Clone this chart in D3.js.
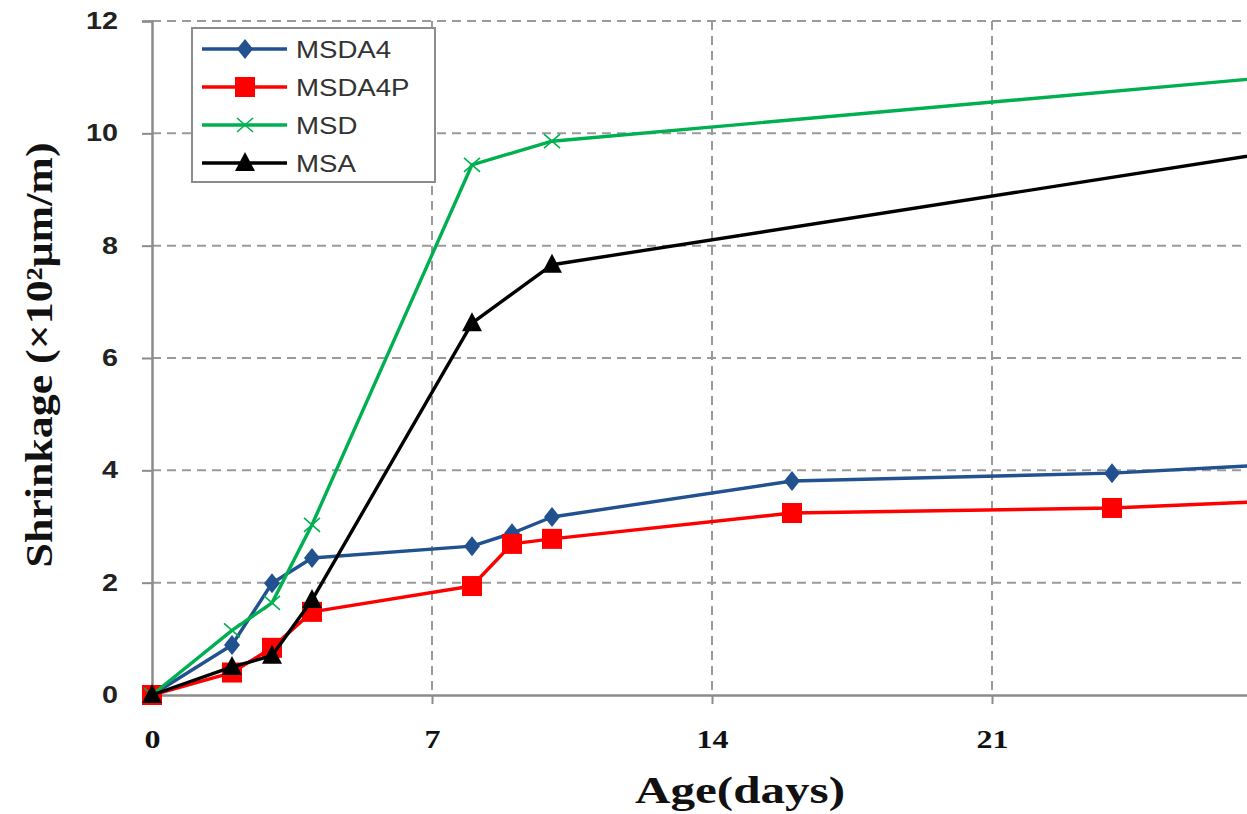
<!DOCTYPE html>
<html>
<head>
<meta charset="utf-8">
<script src="https://cdn.jsdelivr.net/npm/d3@7"></script>
<style>
  html, body { margin: 0; padding: 0; background: #fff; overflow: hidden; }
  svg { display: block; }
</style>
</head>
<body>
<svg id="chart" width="1247" height="814"></svg>
<script>
// Shrinkage of mortar mixes over time (×10² µm/m)
const days       = [0, 2, 3, 4, 8, 9, 10, 16, 24, 28];
const msda4      = [0, 0.89, 1.99, 2.44, 2.65, 2.88, 3.17, 3.81, 3.95, 4.10];
const msda4p     = [0, 0.40, 0.84, 1.48, 1.94, 2.69, 2.78, 3.24, 3.33, 3.45];
const msdDays    = [0, 2, 3, 4, 8, 10, 28];
const msd        = [0, 1.15, 1.64, 3.03, 9.44, 9.86, 11.0];
const msaDays    = [0, 2, 3, 4, 8, 10, 28];
const msa        = [0, 0.50, 0.70, 1.69, 6.62, 7.66, 9.66];
const xTicks     = [0, 7, 14, 21, 28];
const yTicks     = [0, 2, 4, 6, 8, 10, 12];
const seriesNames = ["MSDA4", "MSDA4P", "MSD", "MSA"];

const series = [
  { name: seriesNames[0], x: days,    y: msda4,  color: "#22518f", marker: "diamond" },
  { name: seriesNames[1], x: days,    y: msda4p, color: "#ff0000", marker: "square" },
  { name: seriesNames[2], x: msdDays, y: msd,    color: "#00b050", marker: "cross" },
  { name: seriesNames[3], x: msaDays, y: msa,    color: "#000000", marker: "triangle" }
];

const svg = d3.select("#chart");
const x = d3.scaleLinear().domain([0, 28]).range([152, 1272]);
const y = d3.scaleLinear().domain([0, 12]).range([695, 21]);

// widen text glyphs horizontally by a factor
function widen(sel, factor) {
  sel.each(function () {
    const w = this.getComputedTextLength();
    d3.select(this).attr("textLength", w * factor).attr("lengthAdjust", "spacingAndGlyphs");
  });
}

// dashed grid
const grid = svg.append("g");
grid.selectAll("line.h").data(yTicks.filter(d => d > 0)).join("line")
  .attr("x1", x(0)).attr("x2", 1272)
  .attr("y1", d => y(d)).attr("y2", d => y(d))
  .attr("stroke", "#9a9a9a").attr("stroke-width", 2).attr("stroke-dasharray", "9,6");
grid.selectAll("line.v").data(xTicks.filter(d => d > 0)).join("line")
  .attr("x1", d => x(d)).attr("x2", d => x(d))
  .attr("y1", y(12)).attr("y2", y(0))
  .attr("stroke", "#9a9a9a").attr("stroke-width", 2).attr("stroke-dasharray", "9,6");

// axes
const yAxis = svg.append("g").attr("transform", `translate(${x(0)},0)`)
  .call(d3.axisLeft(y).tickValues(yTicks).tickSize(10).tickPadding(24));
yAxis.select(".domain").attr("stroke", "#8c8c8c").attr("stroke-width", 2.5);
yAxis.selectAll(".tick line").attr("stroke", "#8c8c8c").attr("stroke-width", 2);
yAxis.selectAll(".tick text")
  .attr("font-family", "'Liberation Sans', Arial, sans-serif")
  .attr("font-weight", "bold").attr("font-size", 23).attr("fill", "#222")
  .call(widen, 1.25);

const xAxis = svg.append("g").attr("transform", `translate(0,${y(0)})`)
  .call(d3.axisBottom(x).tickValues(xTicks).tickSize(9).tickPadding(26)
    .tickFormat(d => d < 28 ? d : ""));
xAxis.select(".domain").attr("stroke", "#8c8c8c").attr("stroke-width", 2.5);
xAxis.selectAll(".tick line").attr("stroke", "#8c8c8c").attr("stroke-width", 2);
xAxis.selectAll(".tick text")
  .attr("font-family", "'Liberation Serif', 'Times New Roman', serif")
  .attr("font-weight", "bold").attr("font-size", 25).attr("fill", "#111")
  .call(widen, 1.28);

// marker drawing helper
function drawMarker(sel, kind, color) {
  if (kind === "diamond") {
    sel.append("path").attr("d", "M0,-10 L8,0 L0,10 L-8,0 Z").attr("fill", color);
  } else if (kind === "square") {
    sel.append("rect").attr("x", -10).attr("y", -10).attr("width", 20).attr("height", 20)
      .attr("fill", color);
  } else if (kind === "triangle") {
    sel.append("path").attr("d", "M0,-11 L10,8 L-10,8 Z").attr("fill", color);
  } else if (kind === "cross") {
    sel.append("path").attr("d", "M-8,-7 L8,7 M-8,7 L8,-7")
      .attr("stroke", color).attr("stroke-width", 1.6).attr("fill", "none");
  }
}

// series lines and markers
const line = d3.line().x(d => x(d[0])).y(d => y(d[1]));
series.forEach(s => {
  const pts = s.x.map((d, i) => [d, s.y[i]]);
  const g = svg.append("g");
  g.append("path").datum(pts).attr("d", line)
    .attr("fill", "none").attr("stroke", s.color).attr("stroke-width", 3.4)
    .attr("stroke-linejoin", "round");
  g.selectAll("g.m").data(pts).join("g")
    .attr("transform", d => `translate(${x(d[0])},${y(d[1])})`)
    .each(function () { drawMarker(d3.select(this), s.marker, s.color); });
});

// legend
const lg = svg.append("g");
lg.append("rect").attr("x", 192).attr("y", 28).attr("width", 243).attr("height", 154)
  .attr("fill", "#fff").attr("stroke", "#8c8c8c").attr("stroke-width", 2);
series.forEach((s, i) => {
  const cy = 49 + i * 38;
  lg.append("line").attr("x1", 202).attr("x2", 287).attr("y1", cy).attr("y2", cy)
    .attr("stroke", s.color).attr("stroke-width", 3.4);
  const m = lg.append("g").attr("transform", `translate(245,${cy})`);
  drawMarker(m, s.marker, s.color);
  lg.append("text").attr("x", 296).attr("y", cy).attr("dy", "0.36em")
    .attr("font-family", "'Liberation Sans', Arial, sans-serif")
    .attr("font-size", 24).attr("fill", "#333").text(s.name)
    .call(widen, 1.15);
});

// axis titles
svg.append("text").attr("x", 740).attr("y", 803).attr("text-anchor", "middle")
  .attr("font-family", "'Liberation Serif', 'Times New Roman', serif")
  .attr("font-weight", "bold").attr("font-size", 37).attr("fill", "#111")
  .attr("textLength", 210).attr("lengthAdjust", "spacingAndGlyphs")
  .text("Age(days)");
svg.append("text").attr("transform", "translate(52,355) rotate(-90)")
  .attr("text-anchor", "middle")
  .attr("font-family", "'Liberation Serif', 'Times New Roman', serif")
  .attr("font-weight", "bold").attr("font-size", 37).attr("fill", "#111")
  .attr("textLength", 425).attr("lengthAdjust", "spacingAndGlyphs")
  .text("Shrinkage (×10²μm/m)");
</script>
</body>
</html>
